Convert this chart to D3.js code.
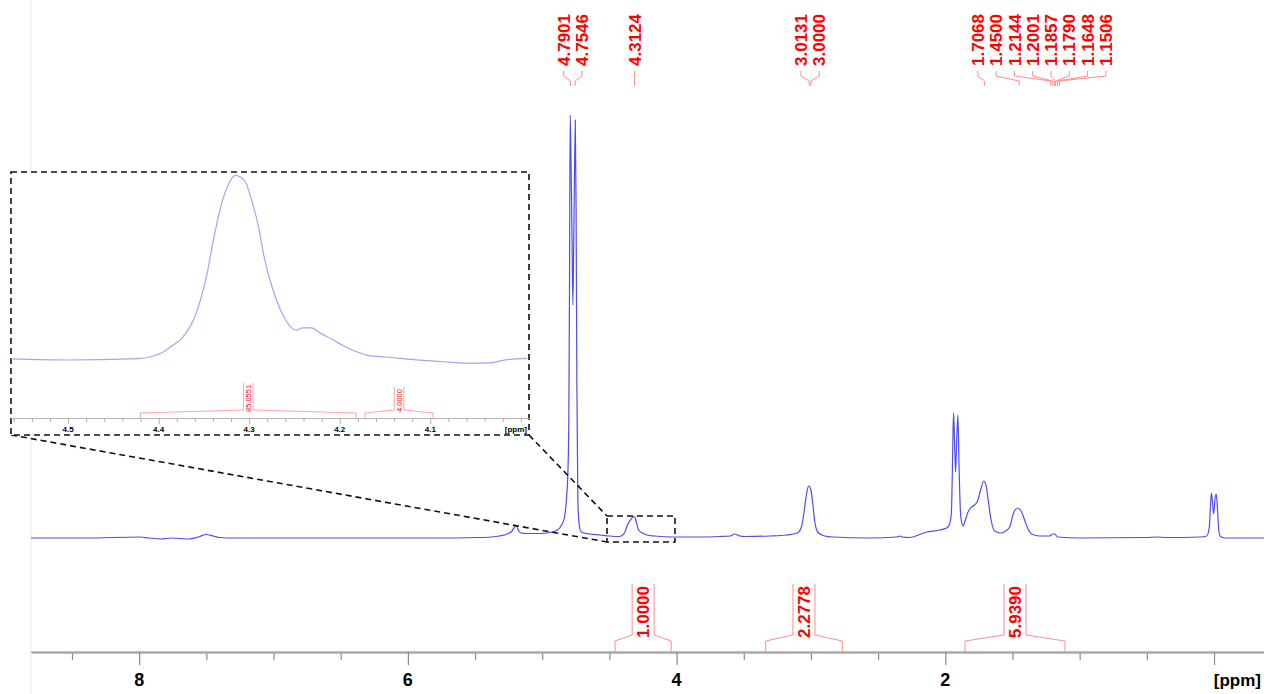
<!DOCTYPE html>
<html><head><meta charset="utf-8">
<script src="https://cdn.jsdelivr.net/npm/d3@7"></script>
<style>html,body{margin:0;padding:0;background:#fff;} svg{display:block;}</style>
</head><body>
<svg id="chart" width="1264" height="694"></svg>
<script>
// ---- main spectrum (ppm, intensity) ----
const specPpm = [8.805,8.40,7.99,7.93,7.84,7.76,7.63,7.56,7.50,7.45,7.40,7.30,6.50,5.80,5.47,5.38,5.32,5.26,5.225,5.205,5.19,5.175,5.155,5.12,5.02,4.945,4.886,4.856,4.834,4.819,4.808,4.802,4.797,4.792,4.786,4.778,4.772,4.765,4.754,4.748,4.742,4.735,4.726,4.710,4.648,4.573,4.499,4.425,4.388,4.366,4.343,4.325,4.315,4.298,4.283,4.253,4.223,4.164,4.030,3.829,3.68,3.60,3.568,3.53,3.494,3.308,3.181,3.10,3.069,3.047,3.032,3.017,3.002,2.987,2.972,2.950,2.898,2.839,2.563,2.36,2.34,2.32,2.266,2.139,2.043,1.990,1.968,1.955,1.947,1.942,1.938,1.931,1.923,1.916,1.906,1.899,1.888,1.879,1.869,1.853,1.834,1.812,1.782,1.760,1.737,1.715,1.696,1.678,1.659,1.633,1.583,1.551,1.521,1.492,1.460,1.432,1.410,1.387,1.358,1.298,1.224,1.201,1.186,1.164,1.000,0.50,0.427,0.35,0.107,0.055,0.036,0.025,0.020,0.014,0.003,-0.008,-0.017,-0.023,-0.034,-0.045,-0.079,-0.372];
const specInt = [0,0,1,0,-1,0,-1,1,3.5,2,0.5,0,0,0,0.5,1,2,4,7,11,12,7,5,4.5,4.5,5.5,8,13,21,40,70,120,250,423,380,300,233,300,418,330,150,40,15,6,4,3,2,1.5,5,13,18,21,21.3,15,8,5,3,2,1,1,1.5,2,4,2,1.5,2,3,5,12,30,45,52,49,35,17,6,2,1,0,1,2,1,0.5,6,8,10,14,25,70,110,125,95,66,95,123,80,28,16,12,17,25,30,33,37,48,57,52,35,18,7,5,7,11,25,30,26,18,10,4,2,2,4,4,1,0,0.5,1,0.5,1,2,10,35,45,40,24,40,44,35,10,2,0,0];

// ---- inset (expanded 4.31 ppm region) ----
const insetPpm = [4.563,4.500,4.424,4.397,4.386,4.374,4.359,4.347,4.340,4.332,4.325,4.315,4.304,4.300,4.290,4.283,4.275,4.260,4.248,4.241,4.231,4.222,4.208,4.195,4.180,4.168,4.149,4.118,4.080,4.057,4.035,4.015,3.993];
const insetInt = [1.3,0.7,1.4,4.5,8.1,12.6,25.2,45.9,64,82,92.8,100,96.4,91,73,55,40.5,22.5,16.7,18,18,15.3,11.7,8.1,4.9,3.1,2.3,0.9,-0.4,-1.1,-0.9,0.9,1.6];

// ---- axis ticks ----
const majorTicks = [8,6,4,2,0];
const tickLabels = ["8","6","4","2",""];
const insetMajorTicks = [4.5,4.4,4.3,4.2,4.1];
const insetTickLabels = ["4.5","4.4","4.3","4.2","4.1"];

// ---- peak picking labels ----
const peakShifts = [4.7901,4.7546,4.3124,3.0131,3.0000,1.7068,1.4500,1.2144,1.2001,1.1857,1.1790,1.1648,1.1506];
const peakLabels = ["4.7901","4.7546","4.3124","3.0131","3.0000","1.7068","1.4500","1.2144","1.2001","1.1857","1.1790","1.1648","1.1506"];

// ---- integrals ----
const integralLabels = ["1.0000","2.2778","5.9390"];
const integralFrom = [4.458,3.337,1.853];
const integralTo = [4.040,2.767,1.109];
const insetIntegralLabels = ["85.0551","4.0000"];
const insetIntegralFrom = [4.420,4.172];
const insetIntegralTo = [4.182,4.097];

// ---- zoom region ----
const zoomPpm = [4.518,4.012];
const zoomInt = [-4,22];

const FONT = "'Liberation Sans', Arial, sans-serif";
const BLUE = "#4d4df2", RED = "#ff0000", PINK = "#ff8c8c";
const svg = d3.select('#chart');

const x = d3.scaleLinear().domain([8.805,-0.372]).range([31,1264]);
const y = d3.scaleLinear().domain([0,430]).range([538,108]);

// faint left frame
svg.append('line').attr('x1',31).attr('x2',31).attr('y1',0).attr('y2',694)
  .attr('stroke','#ececec').attr('stroke-width',1);

// spectrum
const line = d3.line().x((d,i)=>x(specPpm[i])).y((d,i)=>y(specInt[i])).curve(d3.curveMonotoneX);
svg.append('path').datum(specInt).attr('d',line).attr('fill','none')
  .attr('stroke',BLUE).attr('stroke-width',1.2);

// main axis
const axisY = 652;
const minorTicks = d3.range(0,17.1).map(i=>i*0.5).filter(v=>!majorTicks.includes(v));
const gMinor = svg.append('g').attr('transform',`translate(0,${axisY})`)
  .call(d3.axisBottom(x).tickValues(minorTicks).tickSize(8).tickSizeOuter(0).tickFormat(''));
const gMajor = svg.append('g').attr('transform',`translate(0,${axisY})`)
  .call(d3.axisBottom(x).tickValues(majorTicks).tickSize(13).tickSizeOuter(0).tickFormat(''));
[gMinor,gMajor].forEach(g=>{
  g.select('.domain').attr('stroke','#a9a9a9').attr('stroke-width',2);
  g.selectAll('.tick line').attr('stroke','#8a8a8a').attr('stroke-width',1.2);
});
svg.append('g').selectAll('text').data(majorTicks).join('text')
  .attr('x',d=>x(d)).attr('y',686).attr('text-anchor','middle')
  .attr('font-family',FONT).attr('font-weight','bold').attr('font-size',18)
  .text((d,i)=>tickLabels[i]);
svg.append('text').attr('x',1261).attr('y',686).attr('text-anchor','end')
  .attr('font-family',FONT).attr('font-weight','bold').attr('font-size',17).text('[ppm]');

// integrals (main)
integralLabels.forEach((lab,i)=>{
  const x1 = x(integralFrom[i]), x2 = x(integralTo[i]), cx = (x1+x2)/2;
  const t = svg.append('text').attr('transform',`translate(${cx},638) rotate(-90)`)
    .attr('dy','0.36em').attr('text-anchor','start').attr('font-weight','bold')
    .attr('font-family',FONT).attr('font-size',17).attr('fill',RED).text(lab);
  const top = 638 - t.node().getComputedTextLength() - 2;
  const p = d3.path();
  p.moveTo(x1,axisY); p.lineTo(x1,641); p.lineTo(cx-11,635); p.lineTo(cx-11,top);
  p.moveTo(x2,axisY); p.lineTo(x2,641); p.lineTo(cx+11,635); p.lineTo(cx+11,top);
  svg.append('path').attr('d',p.toString()).attr('fill','none').attr('stroke',PINK).attr('stroke-width',1);
});

// peak labels layout
const gap = 18.3;
let clusters = peakShifts.map((s,i)=>({idx:[i]}));
function placeCluster(c){
  const mean = d3.mean(c.idx, i=>x(peakShifts[i]));
  const n = c.idx.length;
  c.pos = c.idx.map((_,k)=>mean + (k-(n-1)/2)*gap);
}
clusters.forEach(placeCluster);
let merged = true;
while(merged){
  merged = false;
  for(let k=0;k<clusters.length-1;k++){
    const a=clusters[k], b=clusters[k+1];
    if(a.pos[a.pos.length-1] + gap > b.pos[0]){
      const c={idx:a.idx.concat(b.idx)}; placeCluster(c);
      clusters.splice(k,2,c); merged=true; break;
    }
  }
}
const labelX = [];
clusters.forEach(c=>c.idx.forEach((i,k)=>labelX[i]=c.pos[k]));
peakLabels.forEach((lab,i)=>{
  const lx = labelX[i], px = x(peakShifts[i]);
  svg.append('text').attr('transform',`translate(${lx},66) rotate(-90)`)
    .attr('dy','0.36em').attr('text-anchor','start').attr('font-weight','bold')
    .attr('font-family',FONT).attr('font-size',17).attr('fill',RED).text(lab);
  svg.append('path').attr('d',`M${lx},71L${lx},76L${px},81L${px},86`)
    .attr('fill','none').attr('stroke',PINK).attr('stroke-width',1);
});

// zoom box & connecting lines
const zx1 = x(zoomPpm[0]), zx2 = x(zoomPpm[1]), zyT = y(zoomInt[1]), zyB = y(zoomInt[0]);
const inset = {x0:11, x1:529, y0:172, y1:435};
const dash = '6,4';
svg.append('rect').attr('x',zx1).attr('y',zyT).attr('width',zx2-zx1).attr('height',zyB-zyT)
  .attr('fill','none').attr('stroke','#111').attr('stroke-width',1.6).attr('stroke-dasharray',dash);
svg.append('line').attr('x1',inset.x0).attr('y1',inset.y1).attr('x2',zx1).attr('y2',zyB)
  .attr('stroke','#111').attr('stroke-width',1.6).attr('stroke-dasharray',dash);
svg.append('line').attr('x1',inset.x1).attr('y1',inset.y1).attr('x2',zx1).attr('y2',zyT)
  .attr('stroke','#111').attr('stroke-width',1.6).attr('stroke-dasharray',dash);

// inset
const gi = svg.append('g');
gi.append('rect').attr('x',inset.x0).attr('y',inset.y0).attr('width',inset.x1-inset.x0).attr('height',inset.y1-inset.y0)
  .attr('fill','#fff').attr('stroke','#111').attr('stroke-width',1.6).attr('stroke-dasharray',dash);
const ix = d3.scaleLinear().domain([4.563,3.991]).range([inset.x0,inset.x1]);
const iy = d3.scaleLinear().domain([0,100]).range([361.3,175.4]);
const iline = d3.line().x((d,i)=>ix(insetPpm[i])).y((d,i)=>iy(insetInt[i])).curve(d3.curveMonotoneX);
gi.append('path').datum(insetInt).attr('d',iline).attr('fill','none')
  .attr('stroke','#a4a4f6').attr('stroke-width',1.2);
const iAxisY = 418;
const iMinor = d3.range(0,29).map(k=>+(4.56-k*0.02).toFixed(2)).filter(v=>!insetMajorTicks.includes(v));
const giMinor = gi.append('g').attr('transform',`translate(0,${iAxisY})`)
  .call(d3.axisBottom(ix).tickValues(iMinor).tickSize(4).tickSizeOuter(0).tickFormat(''));
const giMajor = gi.append('g').attr('transform',`translate(0,${iAxisY})`)
  .call(d3.axisBottom(ix).tickValues(insetMajorTicks).tickSize(6).tickSizeOuter(0).tickFormat(''));
[giMinor,giMajor].forEach(g=>{
  g.select('.domain').attr('stroke','#b5b5b5').attr('stroke-width',1.2);
  g.selectAll('.tick line').attr('stroke','#999').attr('stroke-width',0.8);
});
gi.append('g').selectAll('text').data(insetMajorTicks).join('text')
  .attr('x',d=>ix(d)).attr('y',432).attr('text-anchor','middle')
  .attr('font-family',FONT).attr('font-weight','bold').attr('font-size',8)
  .text((d,i)=>insetTickLabels[i]);
gi.append('text').attr('x',527).attr('y',432).attr('text-anchor','end')
  .attr('font-family',FONT).attr('font-weight','bold').attr('font-size',8).text('[ppm]');
insetIntegralLabels.forEach((lab,i)=>{
  const x1 = ix(insetIntegralFrom[i]), x2 = ix(insetIntegralTo[i]), cx=(x1+x2)/2;
  const t = gi.append('text').attr('transform',`translate(${cx},412) rotate(-90)`)
    .attr('dy','0.36em').attr('text-anchor','start')
    .attr('font-family',FONT).attr('font-size',7.5).attr('fill',RED).text(lab);
  const top = 412 - t.node().getComputedTextLength() - 2;
  const p = d3.path();
  p.moveTo(x1,iAxisY); p.lineTo(x1,413); p.lineTo(cx-4.8,410); p.lineTo(cx-4.8,top);
  p.moveTo(x2,iAxisY); p.lineTo(x2,413); p.lineTo(cx+4.8,410); p.lineTo(cx+4.8,top);
  gi.append('path').attr('d',p.toString()).attr('fill','none').attr('stroke',PINK).attr('stroke-width',0.8);
});
</script>
</body></html>
